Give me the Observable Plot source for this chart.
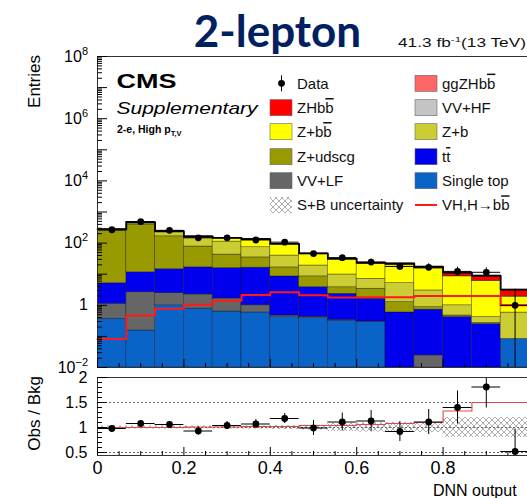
<!DOCTYPE html>
<html>
<head>
<meta charset="utf-8">
<script src="https://cdn.jsdelivr.net/npm/d3@7"></script>
<script src="https://cdn.jsdelivr.net/npm/@observablehq/plot@0.6"></script>
<style>
html,body{margin:0;padding:0;background:#fff;overflow:hidden;}
#wrap{position:relative;width:527px;height:498px;overflow:hidden;background:#fff;font-family:"Liberation Sans",Arial,sans-serif;}
#wrap svg{position:absolute;left:0;top:0;}
</style>
</head>
<body>
<div id="wrap"></div>
<script>
// ---------- data ----------
const binEdges = [0, 0.0667, 0.1333, 0.2, 0.2667, 0.3333, 0.4, 0.4667, 0.5333, 0.6, 0.6667, 0.7333, 0.8, 0.8667, 0.9333, 1.0];

// stacked backgrounds / signals, bottom -> top
const singleTop = [0.37, 0.155, 1.0, 0.78, 0.63, 0.59, 0.42, 0.39, 0.32, 0.29, 0, 0, 0, 0, 0.083];
const vvLF      = [0.75, 2.47, 1.45, 1.46, 1.03, 0.41, 0.05, 0.03, 0.02, 0.01, 0, 0.0245, 0, 0, 0];
const ttbar     = [4.0, 8.9, 12.0, 14.4, 14.1, 15.2, 8.0, 3.4, 2.0, 1.32, 0.59, 0.70, 0.42, 0.25, 0];
const zUdscg    = [246, 386, 151, 61, 27, 18.5, 8.1, 4.7, 1.46, 1.78, 0.67, 0.15, 0.05, 0.02, 0];
const zB        = [19, 59, 63, 70, 69, 39, 23.2, 10.5, 6.0, 3.7, 3.9, 2.13, 0.53, 0.15, 0.5];
const zBB       = [6, 11, 11, 14, 33, 58, 52, 25, 19.7, 14.3, 14.8, 12.2, 7.5, 5.6, 1.3];
const vvHF      = [0.3, 0.5, 0.5, 0.6, 0.6, 0.6, 0.5, 0.4, 0.3, 0.3, 0.3, 0.2, 0.2, 0.15, 0.05];
const zhBB      = [0.07, 0.38, 0.62, 0.84, 1.1, 1.7, 2.1, 1.65, 1.4, 1.45, 1.45, 1.6, 2.0, 2.2, 1.0];
const ggzhBB    = [0.013, 0.09, 0.16, 0.21, 0.3, 0.44, 0.53, 0.44, 0.38, 0.37, 0.37, 0.4, 0.6, 0.6, 0.26];

const processNames = ["Single top", "VV+LF", "tt", "Z+udscg", "Z+b", "Z+bb", "VV+HF", "ZHbb", "ggZHbb"];
const processColors = ["#0a64c8", "#666666", "#0000ee", "#999900", "#cccc33", "#ffff00", "#c4c4c4", "#ff0000", "#ff6666"];

// VH, H->bb line
const vhLine = [0.083, 0.47, 0.78, 1.05, 1.41, 2.14, 2.63, 2.09, 1.78, 1.82, 1.82, 2.0, 2.0, 2.0, 1.0];

// observed data
const dataCounts = [269, 490, 257, 148, 148, 126, 107, 46, 34, 24.5, 17.8, 16.6, 12.3, 11.5, 1.0];
const dataErrLo  = [16, 22, 16, 12, 12, 11, 10, 6.8, 5.8, 4.9, 4.2, 4.0, 3.5, 3.4, 0.995];
const dataErrHi  = [17, 23, 17, 13, 13, 12, 11, 7.7, 6.9, 6.0, 5.3, 5.1, 4.6, 4.5, 2.3];

// ratio panel
const ratioObs   = [0.98, 1.08, 1.06, 0.93, 1.04, 1.07, 1.18, 0.99, 1.11, 1.13, 0.92, 1.11, 1.40, 1.81, 0.52];
const ratioErr   = [0.05, 0.05, 0.06, 0.08, 0.08, 0.09, 0.10, 0.15, 0.18, 0.21, 0.20, 0.25, 0.33, 0.42, 0.45];
const ratioSB    = [1.0, 1.0, 1.0, 1.01, 1.01, 1.02, 1.02, 1.04, 1.04, 1.06, 1.08, 1.10, 1.33, 1.50, 1.50];
const ratioUnc   = [0.03, 0.03, 0.03, 0.03, 0.03, 0.03, 0.04, 0.05, 0.08, 0.09, 0.10, 0.10, 0.20, 0.20, 0.20];

// ticks
const xMajorTicks = [0, 0.2, 0.4, 0.6, 0.8, 1.0];
const xTickLabels = [0, 0.2, 0.4, 0.6, 0.8];
const xMinorTicks = [0.05, 0.1, 0.15, 0.25, 0.3, 0.35, 0.45, 0.5, 0.55, 0.65, 0.7, 0.75, 0.85, 0.9, 0.95];
const yDecades = [1e-2, 1e-1, 1, 1e1, 1e2, 1e3, 1e4, 1e5, 1e6, 1e7, 1e8];
const yLabelValues = [1e8, 1e6, 1e4, 1e2, 1, 1e-2];
const yLabelExps = ["8", "6", "4", "2", "", "\u22122"];
const ratioMajor = [0.5, 1, 1.5, 2];
const ratioMinor = [0.6, 0.7, 0.8, 0.9, 1.1, 1.2, 1.3, 1.4, 1.6, 1.7, 1.8, 1.9];

// ---------- derived tables ----------
const nb = dataCounts.length;
const stack = [singleTop, vvLF, ttbar, zUdscg, zB, zBB, vvHF, zhBB, ggzhBB];
const rects = [];
const cum = new Array(nb).fill(0);
stack.forEach((vals, p) => {
  vals.forEach((v, i) => {
    if (v > 0) {
      const lo = cum[i], hi = cum[i] + v;
      rects.push({x1: binEdges[i], x2: binEdges[i + 1], y1: Math.max(lo, 0.01), y2: hi, p});
      cum[i] = hi;
    }
  });
});
const total = cum.slice();
const steps = vals => vals.flatMap((v, i) => [{x: binEdges[i], y: v}, {x: binEdges[i + 1], y: v}]);
const dataRows = dataCounts.map((n, i) => ({
  xc: (binEdges[i] + binEdges[i + 1]) / 2, xa: binEdges[i], xb: binEdges[i + 1],
  n, lo: n - dataErrLo[i], hi: n + dataErrHi[i]
}));
const ratioRows = ratioObs.map((r, i) => ({
  xc: (binEdges[i] + binEdges[i + 1]) / 2, xa: binEdges[i], xb: binEdges[i + 1],
  r, lo: r - ratioErr[i], hi: r + ratioErr[i]
}));
const bandRows = ratioUnc.map((u, i) => ({x1: binEdges[i], x2: binEdges[i + 1], y1: 1 - u, y2: 1 + u}));
const yMinorTicks = [];
for (let d = 0; d < yDecades.length - 1; d++) for (let k = 2; k <= 9; k++) yMinorTicks.push(yDecades[d] * k);

const FONT = '"Liberation Sans", Arial, sans-serif';
const noText = () => "";
const plain = d => String(d);

// ---------- main panel ----------
const main = Plot.plot({
  width: 530, height: 498,
  marginLeft: 97, marginRight: 1, marginTop: 56, marginBottom: 131,
  x: {domain: [0, 1]},
  y: {type: "log", domain: [0.01, 1e8]},
  style: {background: "transparent", maxWidth: "none", fontFamily: FONT, color: "#000"},
  marks: [
    Plot.rect(rects, {x1: "x1", x2: "x2", y1: "y1", y2: "y2", fill: d => processColors[d.p],
      stroke: "#000", strokeOpacity: 0.55, strokeWidth: 0.6, clip: true}),
    Plot.line(steps(total), {x: "x", y: "y", stroke: "#000", strokeWidth: 1.8}),
    Plot.line(steps(vhLine), {x: "x", y: "y", stroke: "#ff1a1a", strokeWidth: 2}),
    Plot.ruleY(dataRows, {y: "n", x1: "xa", x2: "xb", stroke: "#000", strokeWidth: 1}),
    Plot.ruleX(dataRows, {x: "xc", y1: "lo", y2: "hi", stroke: "#000", strokeWidth: 1, clip: true}),
    Plot.dot(dataRows, {x: "xc", y: "n", r: 3.4, fill: "#000", stroke: "none"}),
    Plot.frame({stroke: "#333", strokeWidth: 1}),
    Plot.axisY({ticks: yDecades, tickSize: -10, tickFormat: noText, label: null}),
    Plot.axisY({ticks: yMinorTicks, tickSize: -5, tickFormat: noText, label: null}),
    Plot.axisX({ticks: xMajorTicks, tickSize: -8, tickFormat: noText, label: null}),
    Plot.axisX({ticks: xMinorTicks, tickSize: -4, tickFormat: noText, label: null})
  ]
});

// ---------- ratio panel ----------
const ratio = Plot.plot({
  width: 530, height: 498,
  marginLeft: 97, marginRight: 1, marginTop: 377, marginBottom: 43,
  x: {domain: [0, 1]},
  y: {domain: [0.44, 2.0]},
  style: {background: "transparent", maxWidth: "none", fontFamily: FONT, color: "#000"},
  marks: [
    Plot.rect(bandRows, {x1: "x1", x2: "x2", y1: "y1", y2: "y2", fill: "url(#hatch)", clip: true}),
    Plot.ruleY([0.5, 1, 1.5], {stroke: "#444", strokeDasharray: "2,2", strokeWidth: 0.8}),
    Plot.line(steps(ratioSB), {x: "x", y: "y", stroke: "#e04848", strokeWidth: 1.1}),
    Plot.ruleY(ratioRows, {y: "r", x1: "xa", x2: "xb", stroke: "#000", strokeWidth: 1, clip: true}),
    Plot.ruleX(ratioRows, {x: "xc", y1: "lo", y2: "hi", stroke: "#000", strokeWidth: 1, clip: true}),
    Plot.dot(ratioRows, {x: "xc", y: "r", r: 3.4, fill: "#000", stroke: "none", clip: true}),
    Plot.frame({stroke: "#333", strokeWidth: 1}),
    Plot.axisY({ticks: ratioMajor, tickSize: -10, tickFormat: noText, label: null}),
    Plot.axisY({ticks: ratioMinor, tickSize: -5, tickFormat: noText, label: null}),
    Plot.axisY({ticks: ratioMajor, tickSize: 0, tickPadding: 10, fontSize: 16, tickFormat: plain, label: null}),
    Plot.axisX({ticks: xMajorTicks, tickSize: -8, tickFormat: noText, label: null}),
    Plot.axisX({ticks: xMinorTicks, tickSize: -4, tickFormat: noText, label: null}),
    Plot.axisX({ticks: xTickLabels, tickSize: 0, tickPadding: 6, fontSize: 18, tickFormat: plain, label: null})
  ]
});

const wrap = document.getElementById("wrap");
wrap.appendChild(main);
wrap.appendChild(ratio);

// ---------- overlay: titles, labels, legend ----------
const ov = d3.select(wrap).append("svg")
  .attr("width", 527).attr("height", 498)
  .style("font-family", FONT).style("pointer-events", "none");
ov.append("defs").html(
  '<pattern id="hatch" width="6" height="6" patternUnits="userSpaceOnUse">' +
  '<path d="M0,0L6,6M6,0L0,6" stroke="#8c8c8c" stroke-width="0.7" fill="none"/></pattern>');

const ys = main.scale("y");

// main y tick labels with superscripts
yLabelValues.forEach((v, i) => {
  const t = ov.append("text").attr("x", 88).attr("y", ys.apply(v) + 5.5)
    .attr("text-anchor", "end").attr("font-size", 16).attr("fill", "#000");
  if (yLabelExps[i] === "") { t.text("1"); }
  else {
    t.append("tspan").text("10");
    t.append("tspan").attr("dy", -7).attr("font-size", 11).text(yLabelExps[i]);
  }
});

// title
ov.append("text").attr("x", 277.5).attr("y", 46.5).attr("text-anchor", "middle")
  .attr("font-family", "Lato, 'Open Sans', sans-serif").attr("font-weight", 700)
  .attr("font-size", 44).attr("fill", "#002060").text("2-lepton");

// lumi (horizontally stretched like the reference, kept inside the frame)
const lumi = ov.append("text").attr("transform", "translate(398,47) scale(1.44,1)")
  .attr("font-size", 12).attr("fill", "#111");
lumi.append("tspan").text("41.3 fb");
lumi.append("tspan").attr("dy", -5).attr("font-size", 8).text("-1");
lumi.append("tspan").attr("dy", 5).text("(13 TeV)");

// CMS labels
ov.append("text").attr("x", 116.5).attr("y", 88).attr("font-weight", 700).attr("font-size", 21)
  .attr("textLength", 60).attr("lengthAdjust", "spacingAndGlyphs").text("CMS");
ov.append("text").attr("x", 116.5).attr("y", 114).attr("font-style", "italic").attr("font-size", 17)
  .attr("textLength", 141).attr("lengthAdjust", "spacingAndGlyphs").text("Supplementary");
const cat = ov.append("text").attr("x", 117).attr("y", 133).attr("font-weight", 700).attr("font-size", 10.5);
cat.append("tspan").text("2-e, High p");
cat.append("tspan").attr("dy", 3).attr("font-size", 7.5).text("T,V");

// axis titles
ov.append("text").attr("transform", "translate(39.5,55) rotate(-90)").attr("text-anchor", "end")
  .attr("font-size", 17).text("Entries");
ov.append("text").attr("transform", "translate(39.5,376) rotate(-90)").attr("text-anchor", "end")
  .attr("font-size", 17).text("Obs / Bkg");
ov.append("text").attr("x", 433).attr("y", 496).attr("font-size", 16).text("DNN output");

// legend
const rowsY = [83.3, 107.7, 131.7, 156.7, 180.7, 205];
const legendLeft = [
  {kind: "data", label: ["Data"]},
  {kind: "box", color: "#ff0000", label: ["ZHb", "b"]},
  {kind: "box", color: "#ffff00", label: ["Z+b", "b"]},
  {kind: "box", color: "#999900", label: ["Z+udscg"]},
  {kind: "box", color: "#666666", label: ["VV+LF"]},
  {kind: "hatch", label: ["S+B uncertainty"]}
];
const legendRight = [
  {kind: "box", color: "#ff6666", label: ["ggZHb", "b"]},
  {kind: "box", color: "#c4c4c4", label: ["VV+HF"]},
  {kind: "box", color: "#cccc33", label: ["Z+b"]},
  {kind: "box", color: "#0000ee", label: ["t", "t"]},
  {kind: "box", color: "#0a64c8", label: ["Single top"]},
  {kind: "line", color: "#ff1a1a", label: ["VH,H\u2192b", "b"]}
];
function drawLegend(items, x0, tx) {
  items.forEach((it, i) => {
    const cy = rowsY[i];
    if (it.kind === "box") {
      ov.append("rect").attr("x", x0).attr("y", cy - 8).attr("width", 22).attr("height", 16)
        .attr("fill", it.color).attr("stroke", "#666").attr("stroke-width", 0.6);
    } else if (it.kind === "hatch") {
      ov.append("rect").attr("x", x0).attr("y", cy - 8).attr("width", 22).attr("height", 16)
        .attr("fill", "url(#hatch)");
    } else if (it.kind === "line") {
      ov.append("line").attr("x1", x0).attr("x2", x0 + 22).attr("y1", cy).attr("y2", cy)
        .attr("stroke", it.color).attr("stroke-width", 2);
    } else if (it.kind === "data") {
      ov.append("line").attr("x1", x0 + 11.5).attr("x2", x0 + 11.5).attr("y1", cy - 8).attr("y2", cy + 8)
        .attr("stroke", "#000").attr("stroke-width", 1);
      ov.append("circle").attr("cx", x0 + 11.5).attr("cy", cy).attr("r", 3.4).attr("fill", "#000");
    }
    const t = ov.append("text").attr("x", tx).attr("y", cy + 5.3).attr("font-size", 15).attr("fill", "#111");
    t.append("tspan").text(it.label[0]);
    if (it.label[1]) t.append("tspan").style("text-decoration", "overline").text(it.label[1]);
  });
}
drawLegend(legendLeft, 270, 297);
drawLegend(legendRight, 415, 442);
</script>
</body>
</html>
